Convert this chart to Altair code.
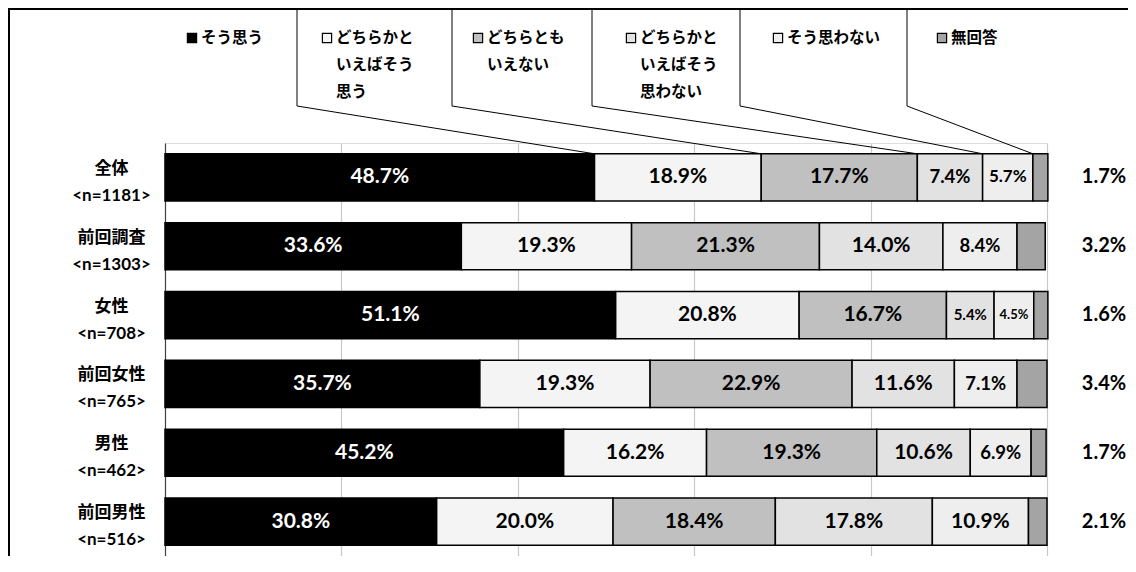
import altair as alt
import pandas as pd

# ---------------- data ----------------
GROUPS = ["全体", "前回調査", "女性", "前回女性", "男性", "前回男性"]
N_SIZES = [1181, 1303, 708, 765, 462, 516]
RESPONSES = ["そう思う", "どちらかといえばそう思う", "どちらともいえない",
             "どちらかといえばそう思わない", "そう思わない", "無回答"]
LEGEND_TEXT = ["そう思う", "どちらかと\nいえばそう\n思う", "どちらとも\nいえない",
               "どちらかと\nいえばそう\n思わない", "そう思わない", "無回答"]
V_SOU = [48.7, 33.6, 51.1, 35.7, 45.2, 30.8]
V_YAYA_SOU = [18.9, 19.3, 20.8, 19.3, 16.2, 20.0]
V_DOCHIRATOMO = [17.7, 21.3, 16.7, 22.9, 19.3, 18.4]
V_YAYA_NOT = [7.4, 14.0, 5.4, 11.6, 10.6, 17.8]
V_NOT = [5.7, 8.4, 4.5, 7.1, 6.9, 10.9]
V_NA = [1.7, 3.2, 1.6, 3.4, 1.7, 2.1]
SERIES = [V_SOU, V_YAYA_SOU, V_DOCHIRATOMO, V_YAYA_NOT, V_NOT, V_NA]

# ---------------- style / layout ----------------
FILLS = ["#000000", "#f4f4f4", "#c0c0c0", "#e2e2e2", "#eeeeee", "#a4a4a4"]
W, H = 882, 413
PAD = {"left": 157, "top": 135, "right": 81, "bottom": 0}
FONT = "Lato, 'Noto Sans CJK JP', sans-serif"
JFONT = "'Noto Sans CJK JP', sans-serif"
KEY_PX = [27, 162, 313, 466, 613, 777]      # legend key centres (px from plot left)
DIV_PX = [132, 287, 427, 575, 742]          # legend dividers (px from plot left)


def px_to_pct(p):
    return p / W * 100.0


def label_size(v):
    if v >= 10:
        return 21
    if v >= 6:
        return 18.5
    if v >= 5.5:
        return 17
    if v >= 5:
        return 15
    return 13


group_labels = [f"{g}|<n={n}>" for g, n in zip(GROUPS, N_SIZES)]

rows = []
for gi, gl in enumerate(group_labels):
    start = 0.0
    for ri, resp in enumerate(RESPONSES):
        v = SERIES[ri][gi]
        rows.append({
            "grp": gl, "resp": resp, "ri": ri, "value": v,
            "start": start, "end": start + v, "mid": start + v / 2,
            "label": f"{v:.1f}%",
            "fs": label_size(v),
            "tc": "#ffffff" if ri == 0 else "#000000",
        })
        start += v
df = pd.DataFrame(rows)

legend_df = pd.DataFrame({
    "resp": RESPONSES,
    "ltext": LEGEND_TEXT,
    "kx": [px_to_pct(p) for p in KEY_PX],
    "tx": [px_to_pct(p + 9) for p in KEY_PX],
})

first = df[df["grp"] == group_labels[0]]
leader_df = pd.DataFrame({
    "grp": group_labels[0],
    "bx": list(first["end"])[:5],
    "dx": [px_to_pct(p) for p in DIV_PX],
})
one = pd.DataFrame({"a": [0]})

fill_scale = alt.Scale(domain=RESPONSES, range=FILLS)
y_enc = alt.Y("grp:N", sort=group_labels,
              scale=alt.Scale(paddingInner=0.314, paddingOuter=0.157),
              axis=alt.Axis(title=None, labelExpr="split(datum.label, '|')",
                            labelAlign="center", labelBaseline="middle",
                            labelPadding=54, ticks=False, tickSize=0,
                            labelFontSize=17, labelFontWeight="bold",
                            labelFont=FONT, labelColor="#000000",
                            labelLineHeight=27, labelOffset=-8.5,
                            domainColor="#404040", domainWidth=1.2))
x_scale = alt.Scale(domain=[0, 100], nice=False, zero=True)
x_axis = alt.Axis(title=None, labels=False, ticks=False, domain=False,
                  grid=True, gridColor="#c8c8c8", gridWidth=1.2,
                  values=[20, 40, 60, 80, 100])

bars = alt.Chart(df).mark_bar(stroke="#000000", strokeWidth=1.5).encode(
    x=alt.X("start:Q", scale=x_scale, axis=x_axis),
    x2="end:Q",
    y=y_enc,
    fill=alt.Fill("resp:N", scale=fill_scale, legend=None),
)

inner = alt.Chart(df[df["ri"] < 5]).mark_text(
    font=FONT, fontWeight="bold", baseline="middle", align="center"
).encode(
    x="mid:Q",
    y=alt.Y("grp:N", sort=group_labels),
    text="label:N",
    color=alt.Color("tc:N", scale=None),
    size=alt.Size("fs:Q", scale=None),
)

outside = alt.Chart(df[df["ri"] == 5]).mark_text(
    font=FONT, fontWeight="bold", baseline="middle", align="center",
    fontSize=20, color="#000000"
).encode(
    x=alt.value(W + 57),
    y=alt.Y("grp:N", sort=group_labels),
    text="label:N",
)

keys = alt.Chart(legend_df).mark_point(
    shape="square", filled=True, size=85, stroke="#000000", strokeWidth=1.2,
    opacity=1
).encode(
    x="kx:Q",
    y=alt.value(-105),
    fill=alt.Fill("resp:N", scale=fill_scale, legend=None),
)

ltexts = alt.Chart(legend_df).mark_text(
    font=JFONT, fontWeight="bold", fontSize=15.5, align="left",
    baseline="middle", lineBreak="\n", lineHeight=27, color="#000000"
).encode(
    x="tx:Q",
    y=alt.value(-105),
    text="ltext:N",
)

dividers = alt.Chart(leader_df).mark_rule(color="#000000", strokeWidth=1).encode(
    x="dx:Q",
    y=alt.value(-135),
    y2=alt.value(-37),
)

leaders = alt.Chart(leader_df).mark_rule(color="#000000", strokeWidth=1).encode(
    x="bx:Q",
    x2="dx:Q",
    y=alt.Y("grp:N", sort=group_labels, bandPosition=0),
    y2=alt.value(-37),
)

top_border = alt.Chart(one).mark_rule(color="#000000", strokeWidth=2).encode(
    x=alt.value(-PAD["left"]), x2=alt.value(W + PAD["right"]), y=alt.value(-134),
)
left_border = alt.Chart(one).mark_rule(color="#000000", strokeWidth=2).encode(
    x=alt.value(-PAD["left"] + 1), y=alt.value(-PAD["top"]), y2=alt.value(H),
)

chart = alt.layer(
    bars, inner, outside, dividers, leaders, keys, ltexts, top_border, left_border
).properties(
    width=W, height=H,
    autosize=alt.AutoSizeParams(type="none"),
    padding=PAD,
).configure_view(stroke=None).configure(font=FONT)

chart.save("out.html", embed_options={"renderer": "svg", "actions": False})
